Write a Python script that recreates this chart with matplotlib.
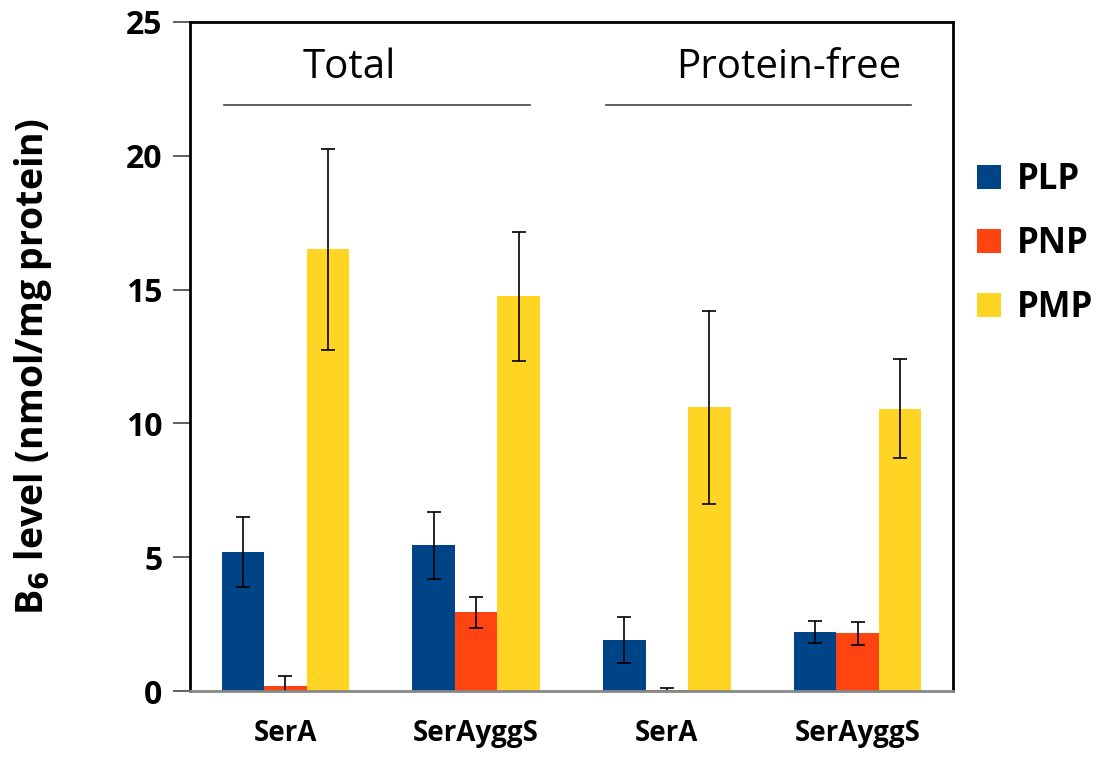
import matplotlib.pyplot as plt
import numpy as np

plt.rcParams['font.family'] = ['Open Sans', 'DejaVu Sans']

groups = ['SerA', 'SerAyggS', 'SerA', 'SerAyggS']
series = ['PLP', 'PNP', 'PMP']
colors = ['#004488', '#FF4411', '#FFD422']

plp = [5.2, 5.45, 1.9, 2.2]
plp_err = [1.3, 1.25, 0.85, 0.4]
pnp = [0.2, 2.95, 0.05, 2.15]
pnp_err = [0.35, 0.58, 0.08, 0.43]
pmp = [16.5, 14.75, 10.6, 10.55]
pmp_err = [3.75, 2.4, 3.6, 1.85]

sections = ['Total', 'Protein-free']

values = [plp, pnp, pmp]
errors = [plp_err, pnp_err, pmp_err]

fig = plt.figure(figsize=(11.01, 7.57), dpi=100)
ax = fig.add_axes([190 / 1101, 1 - 691 / 757, 763 / 1101, 669 / 757])

x = np.arange(len(groups)) + 0.5
w = 0.223
for i, name in enumerate(series):
    ax.bar(x + (i - 1) * w, values[i], w, color=colors[i], label=name,
           yerr=errors[i], capsize=5, error_kw=dict(elinewidth=1.2, capthick=1.2, ecolor='black'),
           zorder=2)

ax.set_xlim(0, 4)
ax.set_ylim(0, 25)
ax.set_yticks(range(0, 26, 5))
ax.set_yticklabels([str(v) for v in range(0, 26, 5)], fontsize=23, fontweight='bold')
ax.set_xticks(x)
ax.set_xticklabels(groups, fontsize=20, fontweight='bold')
ax.tick_params(axis='x', length=0, pad=20)
ax.tick_params(axis='y', length=12, width=1.2, color='#444444', pad=8)
for s in ['left', 'top', 'right']:
    ax.spines[s].set_linewidth(2)
ax.spines['bottom'].set_color('#888888')
ax.spines['bottom'].set_linewidth(2)
ax.spines['bottom'].set_zorder(3)

ax.set_ylabel('B$_\\mathbf{6}$ level (nmol/mg protein)', fontsize=27, fontweight='bold')
ax.yaxis.set_label_coords(-0.178, 0.485)

# section headers
for k, name in enumerate(sections):
    x0, x1 = 2 * k + 0.18, 2 * k + 1.78
    ax.plot([x0, x1], [21.9, 21.9], color='#444444', lw=1.2)
txt_x = [0.834, 3.14]
for name, tx in zip(sections, txt_x):
    ax.text(tx, 23.3, name, ha='center', va='center', fontsize=29)

ax.legend(loc='upper left', bbox_to_anchor=(1.031, 0.79), frameon=False,
          borderpad=0, borderaxespad=0,
          prop=dict(size=25, weight='bold'), handlelength=0.7, handleheight=0.7,
          handletextpad=0.45, labelspacing=0.8)

fig.savefig('out.png', dpi=100)
